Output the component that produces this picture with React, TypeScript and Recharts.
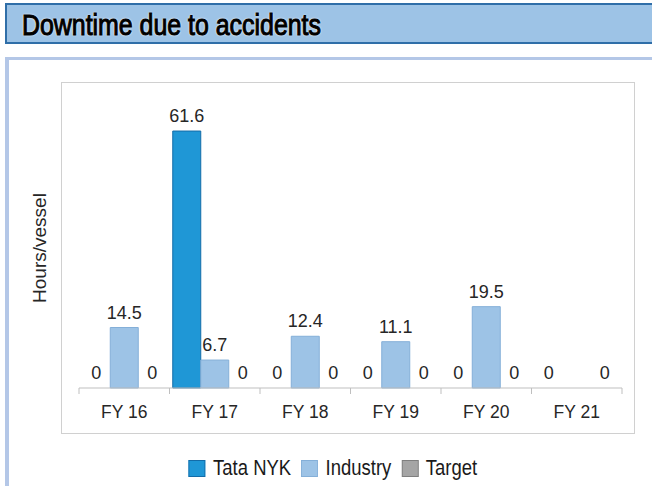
import React from 'react';
import { BarChart, Bar, XAxis, YAxis, LabelList, Rectangle } from 'recharts';

// Años fiscales y valores (horas por buque)
const years = ['FY 16', 'FY 17', 'FY 18', 'FY 19', 'FY 20', 'FY 21'];
const tataNyk = [0, 61.6, 0, 0, 0, 0];
const industry: (number | null)[] = [14.5, 6.7, 12.4, 11.1, 19.5, null];
const target = [0, 0, 0, 0, 0, 0];

const series = [
  { key: 'tata', name: 'Tata NYK', fill: '#1f97d6', stroke: '#136ca8' },
  { key: 'industry', name: 'Industry', fill: '#9dc3e6', stroke: '#84afd8' },
  { key: 'target', name: 'Target', fill: '#a5a5a5', stroke: '#7f7f7f' },
];

const datos = years.map((y, i) => ({
  year: y,
  tata: tataNyk[i],
  industry: industry[i],
  target: target[i],
}));

const W = 652;
const H = 486;
const PLOT_LEFT = 79;
const PLOT_RIGHT = 622;
const PLOT_TOP = 96;
const AXIS_Y = 388;
const BAND = (PLOT_RIGHT - PLOT_LEFT) / years.length;
const FONT = '"Liberation Sans", Arial, sans-serif';

const TickConLinea = ({ x, y, payload, index }: any) => {
  const left = x - BAND / 2;
  return (
    <g>
      <line x1={left} y1={y - 8} x2={left} y2={y - 2} stroke="#bfbfbf" />
      {index === years.length - 1 && (
        <line x1={x + BAND / 2} y1={y - 8} x2={x + BAND / 2} y2={y - 2} stroke="#bfbfbf" />
      )}
      <text x={x} y={y + 22} textAnchor="middle" fill="#262626" fontSize={17.5} fontFamily={FONT}>
        {payload.value}
      </text>
    </g>
  );
};

// Barra que no se dibuja cuando el valor es 0 (solo se muestra la etiqueta)
const makeShape = (key: string) => (props: any) => {
  const v = props.payload ? props.payload[key] : null;
  if (!v) return <g />;
  return <Rectangle {...props} />;
};

const renderLabel = (key: string) => (props: any) => {
  const { x, y, width, index } = props;
  const v = datos[index] ? (datos[index] as any)[key] : null;
  if (v === null || v === undefined) return null;
  const top = v === 0 ? AXIS_Y : y;
  return (
    <text x={x + width / 2} y={top - 9} textAnchor="middle" fill="#262626" fontSize={18} fontFamily={FONT}>
      {v}
    </text>
  );
};

const App = () => {
  return (
    <div style={{ position: 'absolute', left: 0, top: 0, width: W, height: H, background: '#fff', overflow: 'hidden' }}>
      {/* barra de título */}
      <div
        style={{
          position: 'absolute', left: 5, top: 3, width: 645, height: 37,
          background: '#9dc3e6', border: '2px solid #2f6ea8', borderRight: 'none',
        }}
      >
        <span
          style={{
            position: 'absolute', left: 15, top: 2, fontFamily: FONT, fontSize: 30, color: '#000',
            WebkitTextStroke: '1.1px #000', transform: 'scaleX(0.83)', transformOrigin: 'left center',
            textShadow: '0 0 2px #fff, 0 0 3px #fff', whiteSpace: 'nowrap', lineHeight: '36px',
          }}
        >
          Downtime due to accidents
        </span>
      </div>
      {/* panel */}
      <div
        style={{
          position: 'absolute', left: 5, top: 57, width: 647, height: 440,
          borderLeft: '4px solid #b4c7e7', borderTop: '3px solid #b4c7e7',
        }}
      />
      {/* marco del gráfico */}
      <div
        style={{
          position: 'absolute', left: 61, top: 82, width: 572, height: 350,
          border: '1px solid #d0d0d0',
        }}
      />
      <div
        style={{
          position: 'absolute', left: 40, top: 248, transform: 'translate(-50%, -50%) rotate(-90deg)',
          fontFamily: FONT, fontSize: 19, color: '#262626', whiteSpace: 'nowrap',
        }}
      >
        Hours/vessel
      </div>
      <div style={{ position: 'absolute', left: 0, top: 0 }}>
        <BarChart
          width={W}
          height={H}
          data={datos}
          margin={{ top: PLOT_TOP, right: W - PLOT_RIGHT, left: PLOT_LEFT, bottom: H - AXIS_Y - 40 }}
          barCategoryGap="3.6%"
          barGap={0}
        >
          <XAxis
            dataKey="year"
            height={40}
            axisLine={{ stroke: '#bfbfbf' }}
            tickLine={false}
            tick={<TickConLinea />}
            interval={0}
          />
          <YAxis hide domain={[0, 70]} />
          {series.map((s) => (
            <Bar
              key={s.key}
              dataKey={s.key}
              name={s.name}
              fill={s.fill}
              stroke={s.stroke}
              minPointSize={1}
              shape={makeShape(s.key)}
              isAnimationActive={false}
            >
              <LabelList dataKey={s.key} content={renderLabel(s.key)} />
            </Bar>
          ))}
        </BarChart>
      </div>
      {/* leyenda */}
      <div
        style={{
          position: 'absolute', left: 0, width: 676, top: 455, display: 'flex', justifyContent: 'center',
          fontFamily: FONT, fontSize: 22, color: '#1a1a1a', transform: 'scaleX(0.84)', transformOrigin: '338px 0',
          lineHeight: '26px',
        }}
      >
        {series.map((s) => (
          <div key={s.key} style={{ display: 'flex', alignItems: 'center', marginRight: 12 }}>
            <span style={{ display: 'inline-block', width: 18, height: 15, background: s.fill, border: `1px solid ${s.stroke}`, marginRight: 9 }} />
            {s.name}
          </div>
        ))}
      </div>
    </div>
  );
};

export default App;
